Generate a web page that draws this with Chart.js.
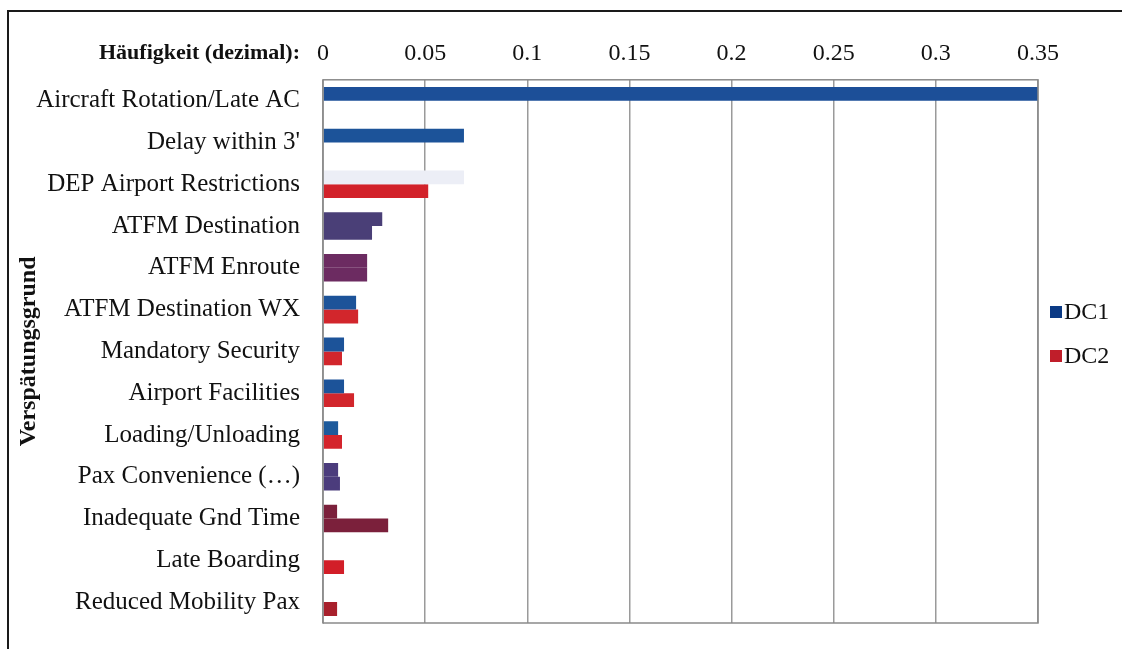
<!DOCTYPE html>
<html>
<head>
<meta charset="utf-8">
<script src="https://cdn.jsdelivr.net/npm/chart.js@4/dist/chart.umd.min.js"></script>
<style>
  body { margin: 0; background: #fff; }
  #wrap { position: relative; width: 1122px; height: 649px; }
  #myChart { display: block; }
  #frame { position: absolute; left: 7px; top: 10px; right: -4px; bottom: -4px;
           border-left: 2px solid #1a1a1a; border-top: 2px solid #1a1a1a; pointer-events: none; }
</style>
</head>
<body>
<div id="wrap">
  <canvas id="myChart" width="1122" height="649"></canvas>
  <div id="frame"></div>
</div>
<script>
// categories and values
const categories = [
  "Aircraft Rotation/Late AC", "Delay within 3'", "DEP Airport Restrictions",
  "ATFM Destination", "ATFM Enroute", "ATFM Destination WX", "Mandatory Security",
  "Airport Facilities", "Loading/Unloading", "Pax Convenience (…)",
  "Inadequate Gnd Time", "Late Boarding", "Reduced Mobility Pax"
];
const dc1 = [0.35, 0.069, 0.069, 0.029, 0.0216, 0.0162, 0.0103, 0.0103, 0.0074, 0.0074, 0.0069, 0, 0];
const dc2 = [0, 0, 0.0515, 0.024, 0.0216, 0.0172, 0.0093, 0.0152, 0.0093, 0.0083, 0.0319, 0.0103, 0.0069];
const xTicks = [0, 0.05, 0.1, 0.15, 0.2, 0.25, 0.3, 0.35];

// the scan shifted some bars to odd colours, keep them per bar
const dc1Colors = ["#1c4f98", "#1c5399", "#eceef6", "#4a3f77", "#6c2b61", "#1c5399", "#1c5399",
  "#1c5399", "#1d5a9c", "#4b3c7c", "#7b203b", "#c81e2a", "#a8202c"];
const dc2Colors = ["#d0222a", "#d0222a", "#d2222a", "#4a3f77", "#6c2b61", "#d2262c", "#d2262c",
  "#d2262c", "#d4242c", "#4b3c7c", "#7b203b", "#d21e28", "#a8202c"];

const serif = "'Liberation Serif', 'Times New Roman', serif";

// plot box, axis caption and legend
const extras = {
  id: "extras",
  afterDraw(chart) {
    const ctx = chart.ctx;
    const a = chart.chartArea;
    ctx.save();
    ctx.strokeStyle = "#8a8a8a";
    ctx.lineWidth = 1.5;
    ctx.strokeRect(a.left, a.top, a.right - a.left, a.bottom - a.top);

    ctx.fillStyle = "#111";
    ctx.font = "bold 22px " + serif;
    ctx.textAlign = "right";
    ctx.textBaseline = "middle";
    ctx.fillText("Häufigkeit (dezimal):", 300, 53);

    ctx.textAlign = "left";
    ctx.font = "24px " + serif;
    const items = [["DC1", "#0b3a85", 312], ["DC2", "#c01e2a", 356]];
    items.forEach(([name, col, y]) => {
      ctx.fillStyle = col;
      ctx.fillRect(1050, y - 6, 12, 12);
      ctx.fillStyle = "#111";
      ctx.fillText(name, 1064, y + 1);
    });
    ctx.restore();
  }
};

new Chart(document.getElementById("myChart"), {
  type: "bar",
  data: {
    labels: categories,
    datasets: [
      { label: "DC1", data: dc1, backgroundColor: dc1Colors, borderWidth: 0 },
      { label: "DC2", data: dc2, backgroundColor: dc2Colors, borderWidth: 0 }
    ]
  },
  options: {
    indexAxis: "y",
    responsive: false,
    animation: false,
    categoryPercentage: 0.66,
    barPercentage: 1,
    layout: { padding: { left: 14, top: 27, right: 84, bottom: 26 } },
    plugins: { legend: { display: false }, tooltip: { enabled: false } },
    scales: {
      x: {
        position: "top",
        min: 0,
        max: 0.35,
        afterBuildTicks: (scale) => { scale.ticks = xTicks.map((v) => ({ value: v })); },
        grid: { color: "#9a9a9a", lineWidth: 1.5, drawTicks: false },
        border: { display: false },
        ticks: { color: "#111", padding: 12, font: { family: serif, size: 24 },
                 callback: (v) => String(v) }
      },
      y: {
        grid: { display: false },
        border: { color: "#bbb" },
        afterFit: (scale) => {
          scale.width = 323 - 14;
          scale.paddingTop = 0;
          scale.paddingBottom = 0;
        },
        title: { display: true, text: "Verspätungsgrund", color: "#111",
                 font: { family: serif, size: 24, weight: "bold" }, padding: 0 },
        ticks: { color: "#111", padding: 15, font: { family: serif, size: 25 } }
      }
    }
  },
  plugins: [extras]
});
</script>
</body>
</html>
